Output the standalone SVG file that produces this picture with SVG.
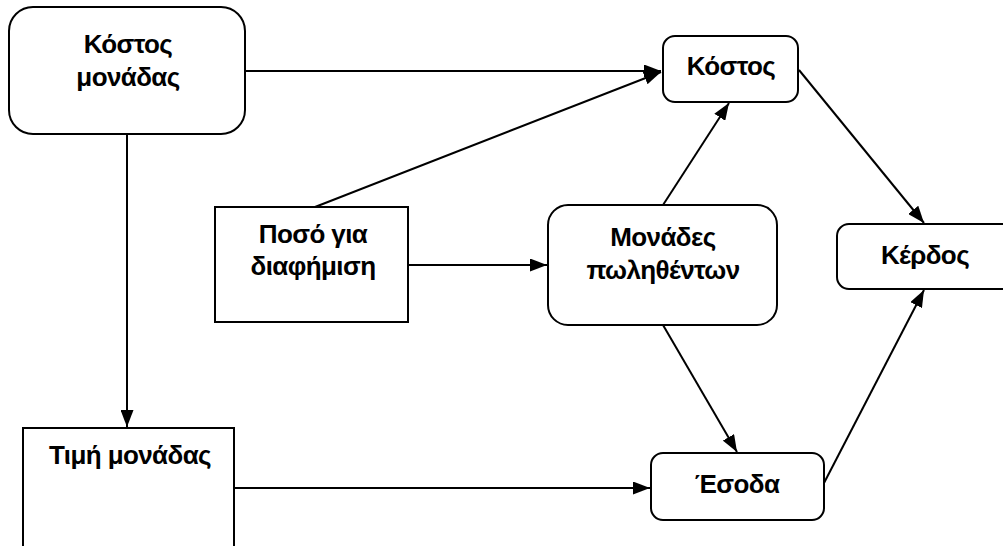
<svg xmlns="http://www.w3.org/2000/svg" width="1003" height="546" viewBox="0 0 1003 546">
  <style>
    .box { fill: #ffffff; stroke: #000000; stroke-width: 2; }
    .lbl { font-family: "Liberation Sans", Arial, sans-serif; font-size: 26px; letter-spacing: -0.6px; font-weight: bold; fill: #000000; text-anchor: middle; }
    .edge { stroke: #000000; stroke-width: 2; fill: none; marker-end: url(#arrow); }
  </style>
  <defs>
    <marker id="arrow" viewBox="0 0 17 13" refX="17" refY="6.5" markerWidth="17" markerHeight="13" markerUnits="userSpaceOnUse" orient="auto">
      <path d="M0,0 L17,6.5 L0,13 Z" fill="#000000"/>
    </marker>
  </defs>
  <rect width="1003" height="546" fill="#ffffff"/>

  <g id="connectors">
    <line class="edge" x1="244" y1="71" x2="661" y2="71"/>
    <line class="edge" x1="127" y1="134" x2="127" y2="427"/>
    <line class="edge" x1="315" y1="207" x2="661" y2="72"/>
    <line class="edge" x1="663" y1="205" x2="729" y2="103"/>
    <line class="edge" x1="408" y1="265" x2="547" y2="265"/>
    <line class="edge" x1="799" y1="70" x2="924" y2="223"/>
    <line class="edge" x1="663" y1="325" x2="737" y2="452"/>
    <line class="edge" x1="234" y1="488" x2="650" y2="488"/>
    <line class="edge" x1="824" y1="483" x2="924" y2="290"/>
  </g>

  <g id="node-unit-cost">
    <rect class="box" x="9" y="7" width="236" height="127" rx="24"/>
    <text class="lbl" x="128" y="53">Κόστος</text>
    <text class="lbl" x="128" y="86">μονάδας</text>
  </g>

  <g id="node-cost">
    <rect class="box" x="663" y="36" width="135" height="66" rx="12"/>
    <text class="lbl" x="731" y="75">Κόστος</text>
  </g>

  <g id="node-advertising">
    <rect class="box" x="215" y="207" width="193" height="115"/>
    <text class="lbl" x="313" y="243">Ποσό για</text>
    <text class="lbl" x="313" y="275">διαφήμιση</text>
  </g>

  <g id="node-units-sold">
    <rect class="box" x="548" y="205" width="229" height="120" rx="20"/>
    <text class="lbl" x="663" y="246">Μονάδες</text>
    <text class="lbl" x="663" y="279">πωληθέντων</text>
  </g>

  <g id="node-profit">
    <rect class="box" x="837" y="224" width="180" height="65" rx="12"/>
    <text class="lbl" x="925" y="264">Κέρδος</text>
  </g>

  <g id="node-unit-price">
    <rect class="box" x="23" y="428" width="211" height="140"/>
    <text class="lbl" x="130" y="464">Τιμή μονάδας</text>
  </g>

  <g id="node-revenue">
    <rect class="box" x="651" y="453" width="173" height="67" rx="12"/>
    <text class="lbl" x="737" y="493">Έσοδα</text>
  </g>
</svg>
